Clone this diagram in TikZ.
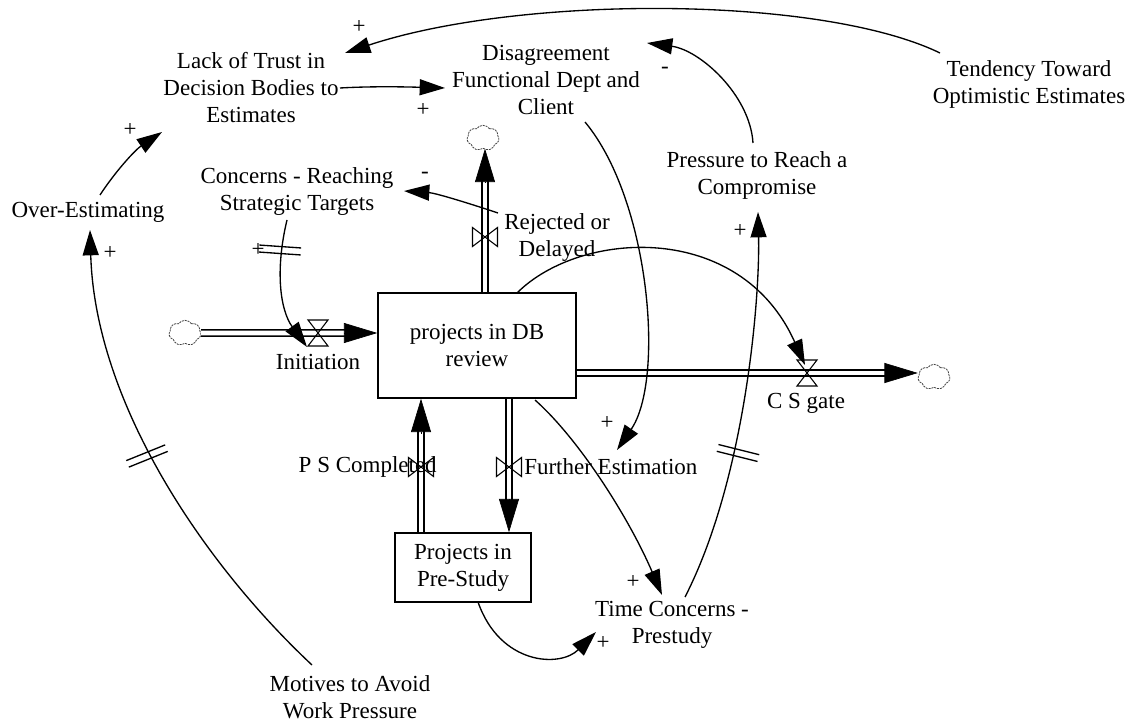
\documentclass[tikz,border=0pt]{standalone}
\usepackage{fontspec}
\setmainfont{Liberation Serif}
\usetikzlibrary{arrows.meta,shapes.symbols,calc}
\begin{document}
\begin{tikzpicture}[x=0.75pt,y=-0.75pt,
  lbl/.style={font=\fontsize{17.25}{20.25}\selectfont, align=center, inner sep=0pt},
  pol/.style={font=\fontsize{17.25}{20.25}\selectfont, inner sep=0pt},
  stock/.style={draw, line width=1.1pt, font=\fontsize{17.25}{20.25}\selectfont, align=center, inner sep=0pt},
  link/.style={line width=1pt, -{Triangle[length=19pt,width=12pt]}},
  pipe/.style={double distance=3.4pt, line width=1.2pt},
  pipehead/.style={line width=0.5pt, -{Triangle[length=25pt,width=15pt]}},
  valvestyle/.style={line width=0.8pt},
  cloudnode/.style={cloud, cloud puffs=7, cloud puff arc=110, aspect=1.3, draw=black!75, line width=0.6pt, dash pattern=on 1.5pt off 0.7pt, minimum width=24pt, minimum height=19pt, inner sep=0pt},
  delaymark/.pic={\draw[line width=1pt] (-21,-3.5) -- (21,-3.5) (-21,3.5) -- (21,3.5);}
]
\useasboundingbox (0,0) rectangle (1127,723);

% stocks
\node[stock, minimum width=148.5pt, minimum height=78.75pt] (db) at (477,345.5) {projects in DB\\review};
\node[stock, minimum width=102pt, minimum height=51.75pt] (pre) at (463,567.5) {Projects in\\Pre-Study};

% sources and sinks
\node[cloudnode] (cl1) at (185,333) {};
\node[cloudnode] (cl2) at (483,138) {};
\node[cloudnode] (cl3) at (934,377) {};

% valve positions
\coordinate (vIn) at (318,333);
\coordinate (vRej) at (485,237);
\coordinate (vCS) at (807,373);
\coordinate (vPS) at (421,467);
\coordinate (vFE) at (509,467);

% flows
\draw[pipe, shorten >=20pt] (cl1.east) -- (db.west |- vIn);
\draw[pipehead] ($(db.west |- vIn)+(-33,0)$) -- (db.west |- vIn);

\draw[pipe, shorten >=20pt] (vRej |- db.north) -- (vRej |- cl2.south);
\draw[pipehead] ($(vRej |- cl2.south)+(0,33)$) -- (vRej |- cl2.south);

\draw[pipe, shorten >=20pt] (db.east |- vCS) -- (cl3.west |- vCS);
\draw[pipehead] ($(cl3.west |- vCS)+(-33,0)$) -- (cl3.west |- vCS);

\draw[pipe, shorten >=20pt] (vPS |- pre.north) -- (vPS |- db.south);
\draw[pipehead] ($(vPS |- db.south)+(0,35)$) -- (vPS |- db.south);

\draw[pipe, shorten >=20pt] (vFE |- db.south) -- (vFE |- pre.north);
\draw[pipehead] ($(vFE |- pre.north)+(0,-33)$) -- (vFE |- pre.north);

% valves
\draw[valvestyle] ($(vIn)+(-10,-13)$) -- ++(20,0) -- ++(-20,26) -- ++(20,0) -- cycle;
\draw[valvestyle] ($(vCS)+(-10,-13)$) -- ++(20,0) -- ++(-20,26) -- ++(20,0) -- cycle;
\draw[valvestyle] ($(vRej)+(-12.5,-9.5)$) -- ++(0,19) -- ++(25,-19) -- ++(0,19) -- cycle;
\draw[valvestyle] ($(vPS)+(-12.5,-9.5)$) -- ++(0,19) -- ++(25,-19) -- ++(0,19) -- cycle;
\draw[valvestyle] ($(vFE)+(-12.5,-9.5)$) -- ++(0,19) -- ++(25,-19) -- ++(0,19) -- cycle;

% flow labels
\node[lbl] (initL) at (318,362) {Initiation};
\node[lbl] (csL) at (806,403) {C S gate};
\node[lbl, anchor=east] (psL) at (437,467) {P S Completed};
\node[lbl, anchor=west] (feL) at (524,467) {Further Estimation};
\node[lbl] (rej) at (557,238) {Rejected or\\Delayed};

% auxiliary variables
\node[lbl] (lack) at (251,88) {Lack of Trust in\\Decision Bodies to\\Estimates};
\node[lbl] (dis) at (546,80) {Disagreement\\Functional Dept and\\Client};
\node[lbl] (tend) at (1029,84) {Tendency Toward\\Optimistic Estimates};
\node[lbl] (press) at (757,175) {Pressure to Reach a\\Compromise};
\node[lbl] (conc) at (297,192) {Concerns - Reaching\\Strategic Targets};
\node[lbl] (over) at (88,212) {Over-Estimating};
\node[lbl] (time) at (672,625) {Time Concerns -\\Prestudy};
\node[lbl] (mot) at (350,697) {Motives to Avoid\\Work Pressure};

% link end points
\coordinate (tendOut) at (940,53);  \coordinate (lackIn) at (345,53);
\coordinate (lackOut) at (340,88);  \coordinate (disInA) at (445,88);
\coordinate (pressOut) at (753,143); \coordinate (disInB) at (647,43);
\coordinate (timeOut) at (685,597); \coordinate (pressIn) at (758,212);
\coordinate (motOut) at (312,665);  \coordinate (overIn) at (90,230);
\coordinate (overOut) at (100,195); \coordinate (lackInB) at (162,132);
\coordinate (concOut) at (287,220); \coordinate (initIn) at (307,347);
\coordinate (rejOut) at (498,213);  \coordinate (concIn) at (404,191);
\coordinate (dbOutA) at (517,293);  \coordinate (csIn) at (805,365);
\coordinate (disOut) at (585,122);  \coordinate (feIn) at (617,450);
\coordinate (dbOutB) at (535,400);  \coordinate (timeInA) at (662,595);
\coordinate (preOut) at (478,602);  \coordinate (timeInB) at (596,632);

% causal links
\draw[link] (tendOut) .. controls (820,-5) and (520,-5) .. (lackIn);
\draw[link] (lackOut) .. controls (375,86) and (410,87) .. (disInA);
\draw[link] (pressOut) .. controls (750,95) and (700,50) .. (disInB);
\draw[link] (timeOut) .. controls (745,480) and (760,300) .. (pressIn);
\draw[link] (motOut) .. controls (200,560) and (95,400) .. (overIn);
\draw[link] (overOut) .. controls (115,172) and (135,150) .. (lackInB);
\draw[link] (concOut) .. controls (275,270) and (280,310) .. (initIn);
\draw[link] (rejOut) .. controls (465,202) and (435,193) .. (concIn);
\draw[link] (dbOutA) .. controls (580,230) and (740,220) .. (csIn);
\draw[link] (disOut) .. controls (650,200) and (665,380) .. (feIn);
\draw[link] (dbOutB) .. controls (580,440) and (630,520) .. (timeInA);
\draw[link] (preOut) .. controls (500,665) and (560,668) .. (timeInB);

% delays
\pic[rotate=-4] at (280,250) {delaymark};
\pic[rotate=22] at (147,456) {delaymark};
\pic[rotate=-14] at (738,453) {delaymark};

% polarities
\node[pol] (p1) at (359,27) {+};
\node[pol] (p2) at (423,110) {+};
\node[pol] (p3) at (665,70) {-};
\node[pol] (p4) at (130,130) {+};
\node[pol] (p5) at (425,175) {-};
\node[pol] (p6) at (110,253) {+};
\node[pol] (p7) at (258,250) {+};
\node[pol] (p8) at (607,423) {+};
\node[pol] (p9) at (740,231) {+};
\node[pol] (p10) at (633,582) {+};
\node[pol] (p11) at (603,643) {+};
\end{tikzpicture}
\end{document}
